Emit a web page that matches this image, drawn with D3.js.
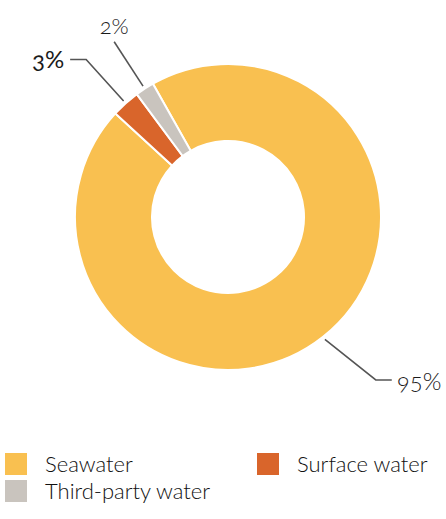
<!DOCTYPE html>
<html>
<head>
<meta charset="utf-8">
<script src="https://cdn.jsdelivr.net/npm/d3@7"></script>
<style>
  html, body { margin: 0; padding: 0; background: #fff; }
  svg { display: block; font-family: Lato, "Open Sans", sans-serif; font-variant-numeric: oldstyle-nums; }
</style>
</head>
<body>
<svg id="chart" width="446" height="519"></svg>
<script>
const categories = ["Seawater", "Surface water", "Third-party water"];
const values = [95, 3, 2];
const labels = ["95%", "3%", "2%"];
const colors = ["#F9C050", "#D9652B", "#C9C4BE"];
const legendOrder = ["Seawater", "Surface water", "Third-party water"];

const svg = d3.select("#chart");
const cx = 228, cy = 217, R = 153, r = 76;
const start = -29.4 * Math.PI / 180;

const data = categories.map((c, i) => ({ name: c, value: values[i], label: labels[i], color: colors[i] }));
const pie = d3.pie().sort(null).value(d => d.value).startAngle(start).endAngle(start + 2 * Math.PI);
const arcs = pie(data);
const arc = d3.arc().innerRadius(r).outerRadius(R);

const g = svg.append("g").attr("transform", `translate(${cx},${cy})`);
g.selectAll("path.slice").data(arcs).join("path")
  .attr("class", "slice")
  .attr("d", arc)
  .attr("fill", d => d.data.color)
  .attr("stroke", "#fff")
  .attr("stroke-width", 2);

function pt(angle, rad) { return [Math.sin(angle) * rad, -Math.cos(angle) * rad]; }

const deg = Math.PI / 180;
const labelCfg = {
  "Seawater": { elbow: 220, shift: -3.8 * deg, tail: 16, size: 24, weight: 300, anchor: "start", dx: 5, dy: 10 },
  "Surface water": { elbow: 212, shift: 0, tail: -16, size: 24, weight: 400, anchor: "end", dx: -6, dy: 9 },
  "Third-party water": { elbow: 209, shift: 0, tail: 0, size: 22, weight: 300, anchor: "middle", dx: 0, dy: -8 }
};

const lab = g.append("g");
arcs.forEach(a => {
  const cfg = labelCfg[a.data.name];
  const mid = (a.startAngle + a.endAngle) / 2;
  const p0 = pt(mid, R + 3);
  const p1 = pt(mid + cfg.shift, cfg.elbow);
  const p2 = [p1[0] + cfg.tail, p1[1]];
  lab.append("path")
    .attr("d", d3.line()([p0, p1, p2]))
    .attr("fill", "none")
    .attr("stroke", "#555")
    .attr("stroke-width", 1.6);
  lab.append("text")
    .attr("x", p2[0] + cfg.dx)
    .attr("y", p2[1] + cfg.dy)
    .attr("text-anchor", cfg.anchor)
    .attr("font-size", cfg.size)
    .attr("font-weight", cfg.weight)
    .attr("fill", "#1a1a1a")
    .text(a.data.label);
});

const legendPos = [[5, 453], [257, 453], [5, 480]];
const leg = svg.append("g");
legendOrder.forEach((name, i) => {
  const d = data.find(x => x.name === name);
  const [x, y] = legendPos[i];
  leg.append("rect").attr("x", x).attr("y", y).attr("width", 22).attr("height", 22).attr("fill", d.color);
  leg.append("text").attr("x", x + 40).attr("y", y + 19)
    .attr("font-size", 22).attr("font-weight", 300).attr("fill", "#111")
    .text(name);
});
</script>
</body>
</html>
